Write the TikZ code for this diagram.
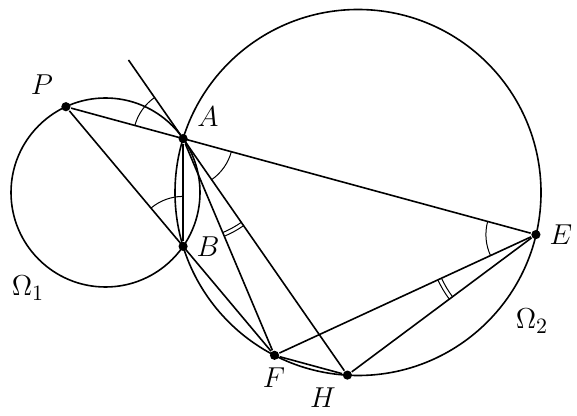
\documentclass[tikz,border=0pt]{standalone}
\usetikzlibrary{angles}
\begin{document}
\begin{tikzpicture}[x=0.5pt,y=-0.5pt,line width=0.8pt,line join=round,
  dot/.style={circle,fill,inner sep=0pt,minimum size=4.6pt},
  lab/.style={inner sep=0pt,font=\fontsize{15.7}{19}\selectfont},
  angmark/.style={draw,line width=0.5pt,angle radius=25pt},
  dblmark/.style={draw,line width=0.5pt}]
\useasboundingbox (0,0) rectangle (577,416);
\coordinate (O1) at (105.5,192.5);
\coordinate (O2) at (358,192.5);
\draw (O1) circle [radius=94.5];
\draw (O2) circle [radius=183];
\node[dot] (A) at (183.1,138.6) {};
\node[dot] (B) at (183.1,246.4) {};
\node[dot] (P) at (65.9,106.7) {};
\node[dot] (E) at (535.9,234.6) {};
\node[dot] (F) at (274.5,355.3) {};
\node[dot] (H) at (347.4,375.1) {};
\coordinate (T) at (128.5,60);
\draw (P) -- (E);
\draw (P) -- (F);
\draw (A) -- (B);
\draw (A) -- (F);
\draw (T) -- (H);
\draw (F) -- (E);
\draw (H) -- (E);
\draw (F) -- (H);
\pic[angmark] {angle=T--A--P};
\pic[angmark] {angle=H--A--E};
\pic[angmark] {angle=A--B--P};
\pic[angmark] {angle=A--E--F};
\pic[dblmark,angle radius=51pt] {angle=F--A--H};
\pic[dblmark,angle radius=53pt] {angle=F--A--H};
\pic[dblmark,angle radius=52pt] {angle=F--E--H};
\pic[dblmark,angle radius=54pt] {angle=F--E--H};
\node[lab] (lP) at (42,85) {$P$};
\node[lab] (lA) at (208,117) {$A$};
\node[lab] (lB) at (208,247) {$B$};
\node[lab] (lE) at (561,235) {$E$};
\node[lab] (lF) at (274,378) {$F$};
\node[lab] (lH) at (323,398) {$H$};
\node[lab] (lO1) at (28,288) {$\Omega_1$};
\node[lab] (lO2) at (532,321) {$\Omega_2$};
\end{tikzpicture}
\end{document}
